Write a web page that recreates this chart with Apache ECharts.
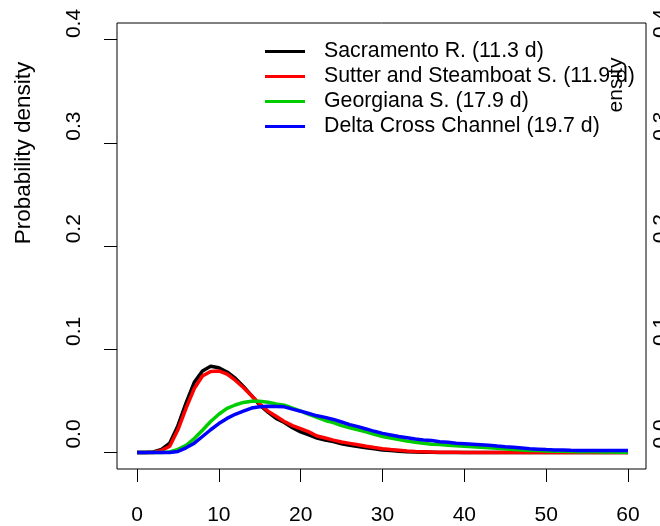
<!DOCTYPE html>
<html><head><meta charset="utf-8">
<script src="https://cdn.jsdelivr.net/npm/echarts@6/dist/echarts.min.js"></script>
<style>html,body{margin:0;padding:0;background:#fff}#c{width:660px;height:526px}</style>
</head><body><div id="c"></div>
<script>
const days = [0,1,2,3,4,5,6,7,8,9,10,11,12,13,14,15,16,17,18,19,20,21,22,23,24,25,26,27,28,29,30,
  31,32,33,34,35,36,37,38,39,40,41,42,43,44,45,46,47,48,49,50,51,52,53,54,55,56,57,58,59,60];
const seriesNames = ["Sacramento R. (11.3 d)","Sutter and Steamboat S. (11.9 d)","Georgiana S. (17.9 d)","Delta Cross Channel (19.7 d)"];
const seriesColors = ["#000000","#ff0000","#00cd00","#0000ff"];
const sacramento = [0,0,0.0005,0.003,0.009,0.026,0.048,0.068,0.079,0.0835,0.082,0.078,0.072,0.064,0.055,0.046,0.039,0.033,0.029,0.024,0.020,
  0.017,0.014,0.012,0.0105,0.0085,0.007,0.0058,0.0045,0.0035,0.0025,0.0018,0.0012,0.0008,0.0005,0.0003,0.0002,0.0001,0.0001,0.0001,0,
  0,0,0,0,0,0,0,0,0,0,0,0,0,0,0,0,0,0,0,0];
const sutter = [0,0,0,0.002,0.006,0.022,0.043,0.062,0.074,0.0785,0.079,0.076,0.070,0.063,0.055,0.047,0.040,0.035,0.030,0.026,0.023,
  0.020,0.016,0.014,0.012,0.0102,0.0088,0.0074,0.006,0.0048,0.0037,0.0029,0.0022,0.0015,0.001,0.0007,0.0004,0.0003,0.0002,0.0002,0.0001,
  0.0001,0.0001,0.0001,0.0001,0.0001,0.0001,0.0001,0.0001,0.0001,0.0001,0.0001,0.0001,0.0001,0,0,0,0,0,0,0];
const georgiana = [0,0,0,0,0.0005,0.003,0.007,0.0135,0.0215,0.030,0.037,0.0427,0.046,0.0485,0.0497,0.0497,0.0487,0.047,0.0458,0.043,0.040,
  0.037,0.034,0.031,0.029,0.026,0.024,0.022,0.020,0.0175,0.0155,0.014,0.0125,0.011,0.010,0.009,0.008,0.0077,0.007,0.0065,0.006,
  0.0055,0.005,0.0045,0.004,0.0035,0.003,0.0025,0.002,0.0018,0.0015,0.0013,0.0011,0.001,0.0008,0.0007,0.0006,0.0005,0.0004,0.0003,0.0003];
const deltaCross = [0,0,0,0,0,0.001,0.0045,0.009,0.0155,0.022,0.028,0.033,0.037,0.040,0.043,0.0443,0.0447,0.0445,0.0442,0.042,0.040,
  0.0378,0.0355,0.034,0.032,0.0295,0.027,0.025,0.0228,0.0205,0.0185,0.017,0.0155,0.0143,0.013,0.0122,0.0115,0.0105,0.0098,0.009,0.0085,
  0.008,0.0075,0.007,0.0062,0.0055,0.005,0.0043,0.0036,0.0032,0.0028,0.0025,0.0023,0.0021,0.002,0.002,0.002,0.002,0.002,0.002,0.002];
const xTicks = [0,10,20,30,40,50,60];
const yTicks = [0,0.1,0.2,0.3,0.4];
const yTickLabels = ["0.0","0.1","0.2","0.3","0.4"];
const yTitle = "Probability density";
const rightTitle = "ensity";

const allValues = [sacramento, sutter, georgiana, deltaCross];
const FONT = "'Liberation Sans', Arial, sans-serif";
const chart = echarts.init(document.getElementById('c'), null, {renderer:'canvas'});

const labelFmt = v => { const i = yTicks.findIndex(t => Math.abs(t - v) < 1e-9); return i >= 0 ? yTickLabels[i] : ''; };

chart.setOption({
  animation:false,
  backgroundColor:'#fff',
  grid:{left:117, right:14, top:23, bottom:57, show:true, borderColor:'#000', borderWidth:1,
        backgroundColor:'transparent', containLabel:false, outerBoundsMode:'none'},
  legend:{
    orient:'vertical', left:265, top:41, padding:0, itemWidth:40, itemHeight:3, itemGap:4, icon:'rect',
    data:seriesNames,
    textStyle:{fontFamily:FONT, fontSize:21.3, color:'#000', padding:[0,0,0,14]},
    selectedMode:false
  },
  xAxis:{
    type:'value', min:-2.444, max:62.2,
    axisLine:{show:false, onZero:false},
    splitLine:{show:false},
    axisTick:{show:true, customValues:xTicks, length:13, lineStyle:{color:'#000', width:1}},
    axisLabel:{customValues:xTicks, fontFamily:FONT, fontSize:21, color:'#000', margin:36}
  },
  yAxis:[
    {type:'value', min:-0.016, max:0.416, position:'left',
     axisLine:{show:false, onZero:false}, splitLine:{show:false},
     axisTick:{show:true, customValues:yTicks, length:13, lineStyle:{color:'#000', width:1}},
     axisLabel:{show:false}},
    {type:'value', min:-0.0341, max:0.4005, position:'left',
     axisLine:{show:false, onZero:false}, splitLine:{show:false}, axisTick:{show:false},
     axisLabel:{customValues:yTicks, formatter:labelFmt, rotate:90, fontFamily:FONT, fontSize:21, color:'#000', margin:32}},
    {type:'value', min:-0.0341, max:0.4005, position:'right',
     axisLine:{show:false, onZero:false}, splitLine:{show:false}, axisTick:{show:false},
     axisLabel:{customValues:yTicks, formatter:labelFmt, rotate:90, fontFamily:FONT, fontSize:21, color:'#000', margin:5}}
  ],
  graphic:[
    {type:'text', x:24, y:153, rotation:Math.PI/2,
     style:{text:yTitle, font:'22.5px ' + FONT, fill:'#000', align:'center', verticalAlign:'middle'}},
    {type:'text', x:616, y:85, rotation:Math.PI/2,
     style:{text:rightTitle, font:'21px ' + FONT, fill:'#000', align:'center', verticalAlign:'middle'}}
  ],
  series: allValues.map((vals, k) => ({
    name:seriesNames[k], type:'line', xAxisIndex:0, yAxisIndex:0,
    data: days.map((d, i) => [d, vals[i]]),
    showSymbol:false, symbol:'none', smooth:false,
    lineStyle:{color:seriesColors[k], width:3.5},
    itemStyle:{color:seriesColors[k]},
    z:2+k
  }))
});
</script></body></html>
